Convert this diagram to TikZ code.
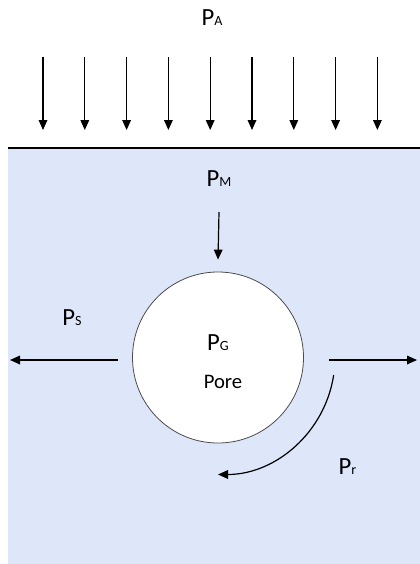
\documentclass[tikz,border=0pt]{standalone}
\usepackage{fontspec}
\setmainfont{Carlito}
\usetikzlibrary{arrows.meta}
\definecolor{soil}{RGB}{222,230,250}
\newcommand{\psub}[1]{{\fontsize{10.5}{12}\selectfont #1}}
\begin{document}
\begin{tikzpicture}[x=0.75pt, y=-0.75pt,
  load/.style={line width=0.9pt, -{Triangle[length=7.5pt, width=6.5pt]}},
  lbl/.style={anchor=base, inner sep=0pt, font=\fontsize{18.5}{22}\selectfont}]
\useasboundingbox (0,0) rectangle (420,564);
\fill[soil](8,148) rectangle (420,564);
\draw[line width=2.2pt](8,148)--(420,148);

% pressure of the air on top
\node[lbl] (pa) at (212,25.7){P\psub{A}};
\foreach \i in {0,...,8}{
  \coordinate (top\i) at (43+41.8*\i,57);
  \coordinate (bot\i) at (43+41.8*\i,130);
  \draw[load](top\i)--(bot\i);
}

% the pore
\node[circle, draw=black!70, line width=0.6pt, fill=white, minimum size=128.25pt] (pore) at (218,357.5){};
\node[lbl] (pg) at (218,350){P\psub{G}};
\node[lbl, font=\fontsize{15.5}{18}\selectfont] (txt) at (223,388){Pore};

\node[lbl] (pm) at (219,186){P\psub{M}};
\draw[load]([yshift=-19.5pt]pm.base)--([yshift=9pt]pore.north);

\node[lbl] (ps) at (72,325.7){P\psub{S}};
\coordinate (sl) at (118,360);
\coordinate (sr) at (329,360);
\coordinate (el) at (10,360);
\coordinate (er) at (417,360);
\draw[load](sl)--(el);
\draw[load](sr)--(er);

\node[lbl] (pr) at (347.5,474){P\psub{r}};
\draw[load](pore.center) ++(8.6:117) arc[start angle=8.6, end angle=90, radius=117];
\end{tikzpicture}
\end{document}
